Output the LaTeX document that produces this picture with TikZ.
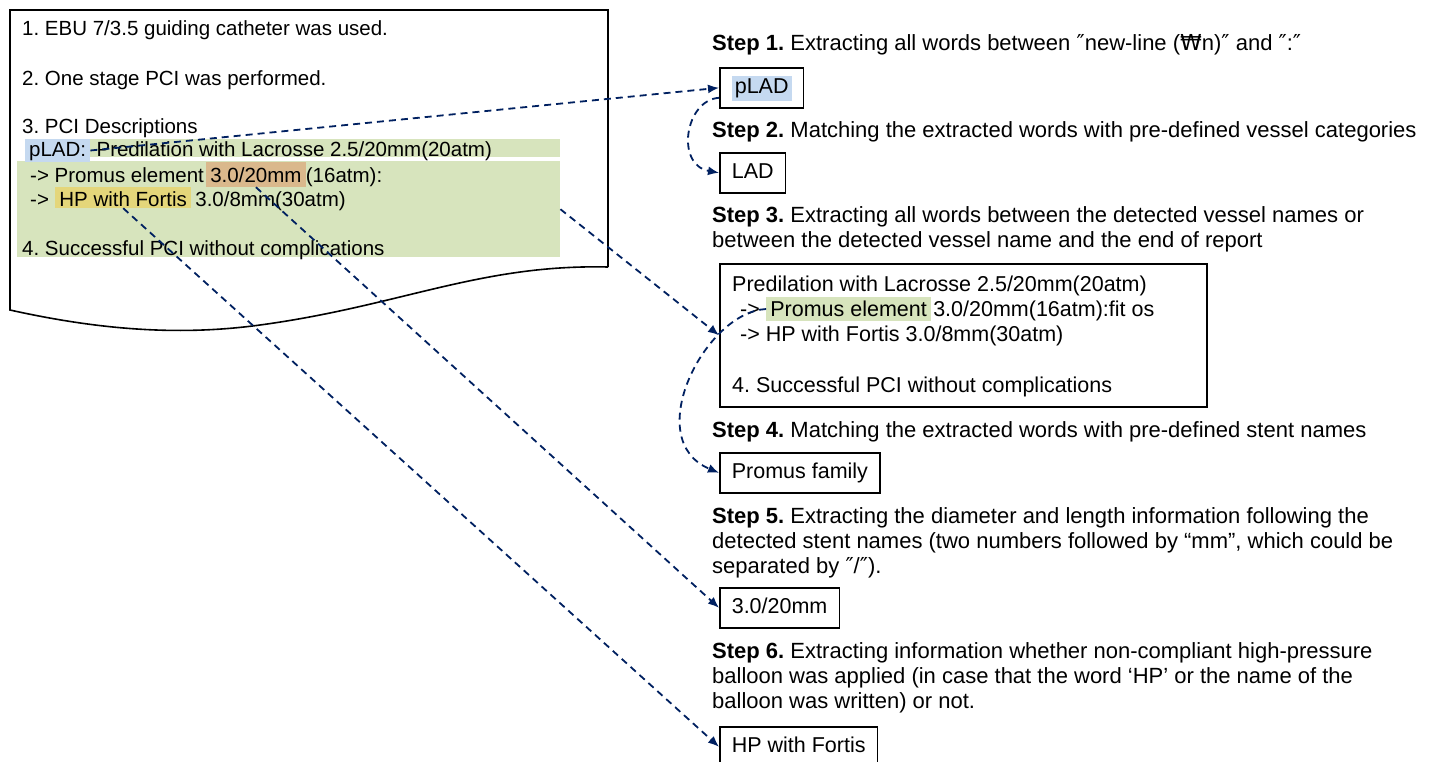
\documentclass[tikz,border=0pt]{standalone}
\usepackage{fontspec}
\setmainfont{Liberation Sans}
\newfontfamily\symfont{DejaVu Sans}
\usetikzlibrary{arrows.meta, positioning}
\definecolor{navyline}{RGB}{0,32,96}
\definecolor{hlblue}{RGB}{197,217,240}
\definecolor{hlgreen}{RGB}{215,228,189}
\definecolor{hlorange}{RGB}{218,184,140}
\definecolor{hlyellow}{RGB}{228,214,122}
\newcommand\repfont{\fontsize{20.5}{25}\selectfont}
\newcommand\boxfont{\fontsize{21.5}{25}\selectfont}
\newcommand\stepfont{\fontsize{22}{25}\selectfont}
\newcommand\dq{{\symfont ″}}
\setlength{\fboxsep}{3pt}
\frenchspacing
\tikzset{%
	txt/.style={
		inner sep=0pt,
		anchor=base west,
		font=\repfont
	},
	btxt/.style={
		txt,
		font=\boxfont
	},
	hl/.style={
		inner sep=0pt,
		anchor=base west,
		fill=#1,
		inner xsep=4pt
	},
	steptext/.style={
		txt,
		align=left,
		font=\stepfont
	},
	resbox/.style={
		draw,
		line width=1.6pt,
		anchor=north west,
		inner xsep=12pt,
		minimum height=40pt,
		text height=15pt,
		text depth=4pt,
		font=\boxfont
	},
	link/.style={
		draw=navyline,
		line width=1.8pt,
		dash pattern=on 7pt off 5pt,
		-{Latex[length=11pt, width=9pt]}
	},
}

\begin{document}
\begin{tikzpicture}[x=1pt, y=-1pt]
	\useasboundingbox (0,0) rectangle (1435,761);
	% report sheet
	\draw[line width=1.6pt] (608,267) -- (608,10) -- (10,10) -- (10,310)
		.. controls (100,330) and (180,336) .. (260,325)
		.. controls (400,306) and (480,264) .. (608,267);
	\fill[hlgreen] (83,139) rectangle (560,157);
	\node[fill=hlgreen, inner sep=0pt, minimum width=543pt, minimum height=96pt, anchor=north west] (gblock) at (17,161) {};
	
	\node[txt] (r1) at (22,35) {1. EBU 7/3.5 guiding catheter was used.};
	\node[txt] (r2) at (22,85) {2. One stage PCI was performed.};
	\node[txt] (r3) at (22,133) {3. PCI Descriptions};
	\node[hl=hlblue, font=\repfont, text height=17pt, text depth=6pt] (vessel) at (25,156) {pLAD:};
	\node[txt, base right=6pt of vessel] (r4) {Predilation with Lacrosse 2.5/20mm(20atm)};
	\node[txt] (r5a) at (30,182) {-> Promus element};
	\node[hl=hlorange, font=\repfont, text height=20pt, text depth=5pt, base right=2pt of r5a] (dim) {3.0/20mm};
	\node[txt, base right=0pt of dim] (r5b) {(16atm):};
	\node[txt] (r6a) at (30,206) {->};
	\node[hl=hlyellow, font=\repfont, text height=19pt, text depth=2pt, base right=6pt of r6a] (balloon) {HP with Fortis};
	\node[txt, base right=4pt of balloon] (r6b) {3.0/8mm(30atm)};
	\node[txt] (r7) at (22,255) {4. Successful PCI without complications};
	
	% extraction steps
	\node[steptext] (s1) at (712,50) {\textbf{Step 1.} Extracting all words between \dq new-line ({\symfont ₩}n)\dq{} and \dq:\dq};
	\node[resbox] (pladbox) at (719,67) {\colorbox{hlblue}{pLAD}};
	\node[steptext] (s2) at (712,137) {\textbf{Step 2.} Matching the extracted words with pre-defined vessel categories};
	\node[resbox] (ladbox) at (719,152) {LAD};
	\node[steptext] (s3) at (712,247) {\textbf{Step 3.} Extracting all words between the detected vessel names or\\between the detected vessel name and the end of report};
	\node[draw, line width=1.6pt, anchor=north west, minimum width=487pt, minimum height=143pt] (bigbox) at (719,263) {};
	\node[btxt] (b1) at (732,291) {Predilation with Lacrosse 2.5/20mm(20atm)};
	\node[btxt] (b2a) at (740,316) {->};
	\node[hl=hlgreen, font=\boxfont, text height=19pt, text depth=5pt, base right=6pt of b2a] (stent) {Promus element};
	\node[btxt, base right=2pt of stent] (b2b) {3.0/20mm(16atm):fit os};
	\node[btxt] (b3) at (740,341) {-> HP with Fortis 3.0/8mm(30atm)};
	\node[btxt] (b4) at (732,392) {4. Successful PCI without complications};
	\node[steptext] (s4) at (712,437) {\textbf{Step 4.} Matching the extracted words with pre-defined stent names};
	\node[resbox] (familybox) at (719,452) {Promus family};
	\node[steptext] (s5) at (712,573) {\textbf{Step 5.} Extracting the diameter and length information following the\\detected stent names (two numbers followed by “mm”, which could be\\separated by \dq/\dq).};
	\node[resbox] (sizebox) at (719,587) {3.0/20mm};
	\node[steptext] (s6) at (712,708) {\textbf{Step 6.} Extracting information whether non-compliant high-pressure\\balloon was applied (in case that the word ‘HP’ or the name of the\\balloon was written) or not.};
	\node[resbox] (hpbox) at (719,726) {HP with Fortis};
	
	% connectors
	\draw[link] (vessel.east) -- (pladbox.west);
	\draw[link] ([yshift=-10pt]pladbox.west) .. controls (685,100) and (675,165) .. (ladbox.west);
	\draw[link] (gblock.east) -- (bigbox.west);
	\draw[link] (stent.west) .. controls (705,312) and (640,440) .. (familybox.west);
	\draw[link] (dim.south) -- (sizebox.west);
	\draw[link] (balloon.south) -- (hpbox.west);
\end{tikzpicture}
\end{document}
